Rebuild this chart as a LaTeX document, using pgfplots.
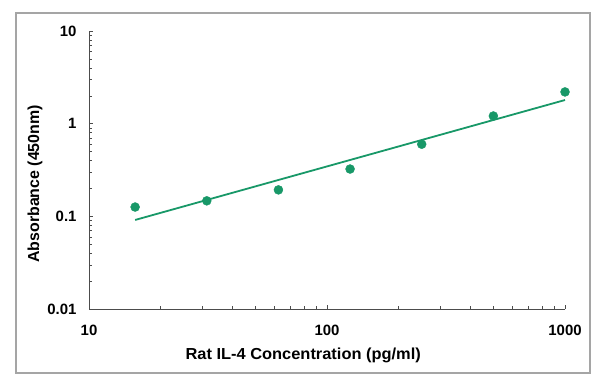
\documentclass[border=0pt]{standalone}
\usepackage{pgfplots}
\pgfplotsset{compat=1.18}
\usepackage{fontspec}
\usepackage{graphicx}
\setmainfont{Liberation Sans}
\definecolor{dotgreen}{RGB}{24,152,104}
\definecolor{framegray}{RGB}{165,165,165}
\begin{document}
\begin{tikzpicture}[x=1bp,y=1bp]
\path[use as bounding box] (0,0) rectangle (600,383);
\draw[framegray, line width=1.2bp] (16,10) rectangle (590,370);
\begin{axis}[
  at={(89bp,74bp)}, anchor=south west,
  scale only axis, width=476bp, height=278bp,
  xmode=log, ymode=log,
  xmin=10, xmax=1000, ymin=0.01, ymax=10,
  axis x line*=bottom, axis y line*=left,
  axis line style={black!70, line width=0.6bp},
  tick style={black!70, line width=0.5bp},
  tick align=inside,
  major tick length=4bp, minor tick length=3bp,
  xtick={10,100,1000}, xticklabels={10,100,1000},
  ytick={0.01,0.1,1,10}, yticklabels={0.01,0.1,1,10},
  tick label style={font=\fontsize{15}{17}\selectfont\bfseries},
  xticklabel style={yshift=-13bp},
  yticklabel style={xshift=-9bp},
  xlabel={\scalebox{1.03}[1]{Rat IL-4 Concentration (pg/ml)}},
  ylabel={Absorbance (450nm)},
  every axis x label/.style={at={(axis description cs:0.45,0)}, anchor=center, yshift=-46bp, font=\fontsize{16}{18}\selectfont\bfseries},
  every axis y label/.style={at={(axis description cs:0,0.45)}, anchor=center, rotate=90, yshift=54bp, font=\fontsize{16}{18}\selectfont\bfseries},
  clip=false,
]
\addplot[dotgreen, line width=1.8bp, no marks] coordinates {
  (15.625,0.0914) (1000,1.80)
};
\addplot[only marks, mark=*, mark size=4.5bp, dotgreen, mark options={draw=dotgreen, fill=dotgreen}] coordinates {
  (15.625,0.126) (31.25,0.147) (62.5,0.193) (125,0.324) (250,0.60) (500,1.21) (1000,2.20)
};
\end{axis}
\end{tikzpicture}
\end{document}
